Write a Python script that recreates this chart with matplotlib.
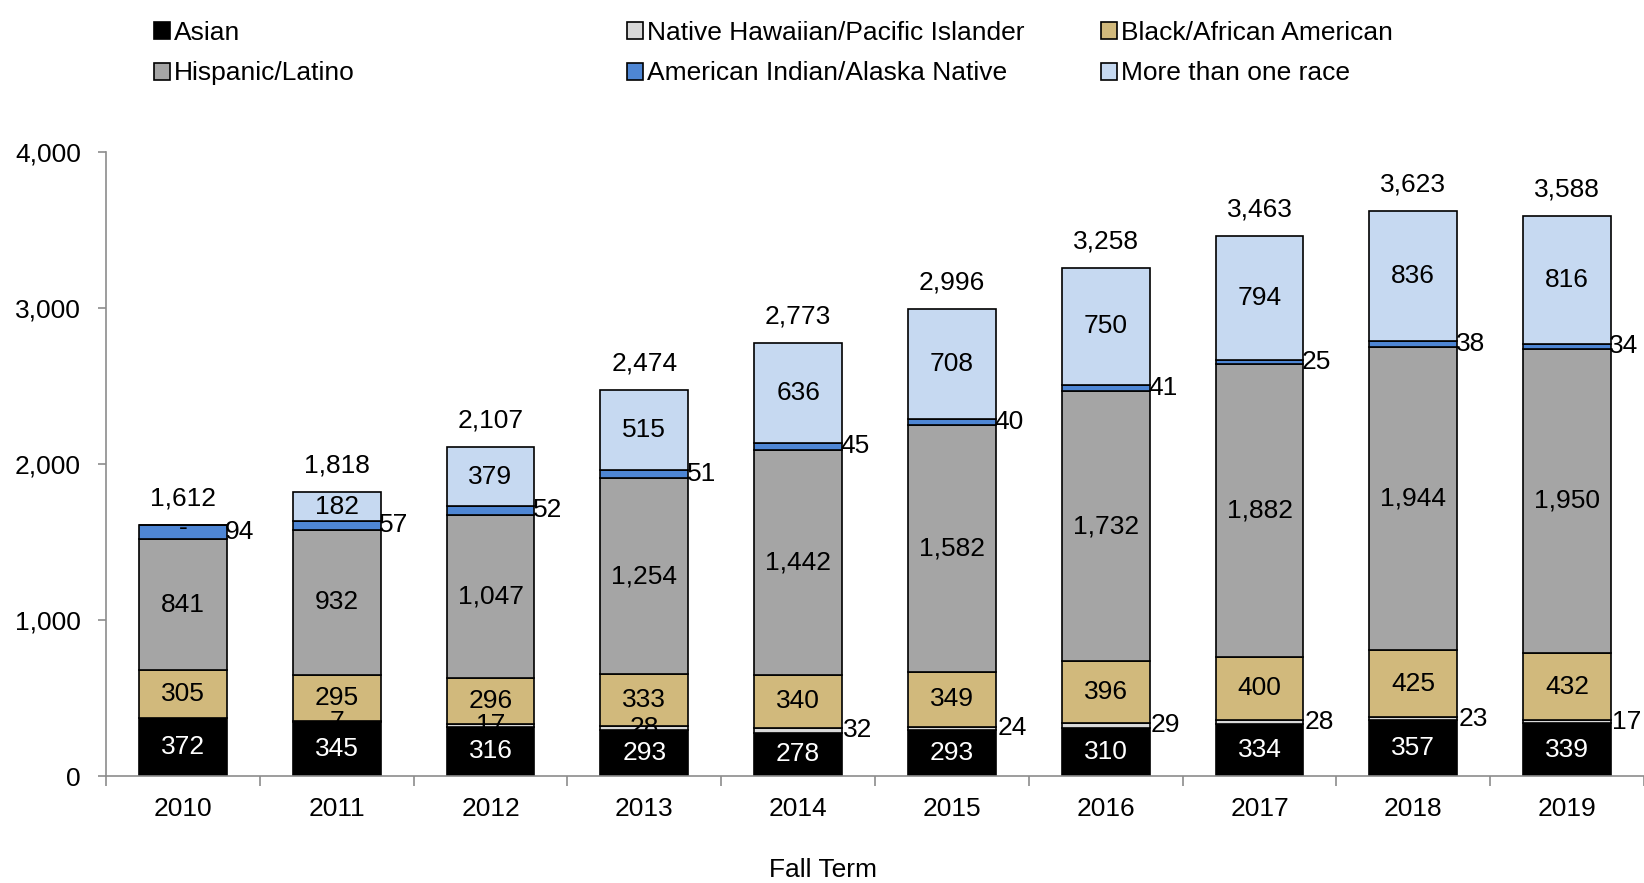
import numpy as np
import matplotlib.pyplot as plt

plt.rcParams['font.family'] = ['Liberation Sans', 'DejaVu Sans']

years = ['2010', '2011', '2012', '2013', '2014', '2015', '2016', '2017', '2018', '2019']
asian = [372, 345, 316, 293, 278, 293, 310, 334, 357, 339]
hawaiian = [0, 7, 17, 28, 32, 24, 29, 28, 23, 17]
black = [305, 295, 296, 333, 340, 349, 396, 400, 425, 432]
hispanic = [841, 932, 1047, 1254, 1442, 1582, 1732, 1882, 1944, 1950]
amer_indian = [94, 57, 52, 51, 45, 40, 41, 25, 38, 34]
multi = [0, 182, 379, 515, 636, 708, 750, 794, 836, 816]

series = [
    ('Asian', asian, '#000000'),
    ('Native Hawaiian/Pacific Islander', hawaiian, '#d9d9d9'),
    ('Black/African American', black, '#d1b97c'),
    ('Hispanic/Latino', hispanic, '#a5a5a5'),
    ('American Indian/Alaska Native', amer_indian, '#4e86d4'),
    ('More than one race', multi, '#c6d9f1'),
]

FS = 19

fig = plt.figure(figsize=(16.44, 8.83), dpi=100)
ax = fig.add_axes([106 / 1644, 1 - 776 / 883, 1538 / 1644, 624 / 883])

x = np.arange(len(years))
width = 0.57
bottom = np.zeros(len(years))
handles = {}
for name, vals, color in series:
    vals = np.array(vals, dtype=float)
    bars = ax.bar(x, vals, width, bottom=bottom, color=color,
                  edgecolor='black', linewidth=1.2, label=name)
    handles[name] = bars
    for i, v in enumerate(vals):
        mid = bottom[i] + v / 2
        if name == 'Asian':
            ax.text(x[i], mid, f'{int(v):,}', ha='center', va='center',
                    color='white', fontsize=FS)
        elif name == 'Native Hawaiian/Pacific Islander':
            if v == 0:
                continue
            if i <= 3:
                ax.text(x[i], mid, f'{int(v):,}', ha='center', va='center', fontsize=FS)
            else:
                ax.text(x[i] + width / 2 + 0.01, mid, f'{int(v):,}', ha='left',
                        va='center', fontsize=FS)
        elif name == 'American Indian/Alaska Native':
            ax.text(x[i] + width / 2 - 0.01, mid, f'{int(v):,}', ha='left',
                    va='center', fontsize=FS)
        elif v == 0:
            # zero segment shown as a dash just under the bar top
            ax.text(x[i], mid - 25, '-', ha='center', va='center', fontsize=FS)
        else:
            ax.text(x[i], mid, f'{int(v):,}', ha='center', va='center', fontsize=FS)
    bottom += vals

for i, t in enumerate(bottom):
    ax.text(x[i], t + 170, f'{int(t):,}', ha='center', va='center', fontsize=FS)

ax.set_xlim(-0.5, 9.487)
ax.set_ylim(0, 4000)
ax.set_yticks(np.arange(0, 4001, 1000))
ax.set_yticklabels([f'{v:,}' for v in range(0, 4001, 1000)])
ax.set_xticks(x)
ax.set_xticklabels(years)
ax.set_xticks(np.arange(-0.5, 10, 1), minor=True)
ax.tick_params(axis='x', which='major', length=0, pad=15, labelsize=FS)
ax.tick_params(axis='x', which='minor', length=7, color='#8c8c8c', width=1.2)
ax.tick_params(axis='y', length=6, color='#8c8c8c', width=1.2, pad=12, labelsize=FS)

for s in ['top', 'right']:
    ax.spines[s].set_visible(False)
for s in ['left', 'bottom']:
    ax.spines[s].set_color('#8c8c8c')
    ax.spines[s].set_linewidth(1.2)

ax.set_xlabel('Fall Term', fontsize=FS)
ax.xaxis.set_label_coords(0.466, -0.131)

columns = [
    (['Asian', 'Hispanic/Latino'], 154),
    (['Native Hawaiian/Pacific Islander', 'American Indian/Alaska Native'], 627),
    (['Black/African American', 'More than one race'], 1101),
]
for names, px in columns:
    fig.legend([handles[n] for n in names], names, loc='upper left',
               bbox_to_anchor=(px / 1644, 1 - 21 / 883), frameon=False,
               fontsize=FS, borderpad=0, borderaxespad=0, handlelength=0.62,
               handleheight=0.62, handletextpad=0.15, labelspacing=0.62)

fig.savefig('out.png', dpi=100)
